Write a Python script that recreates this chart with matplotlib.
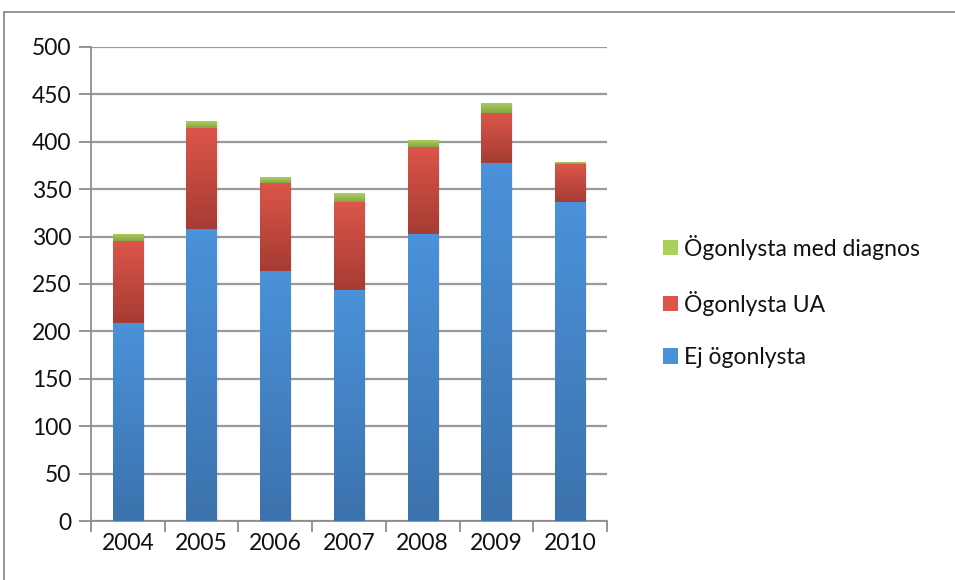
import matplotlib
matplotlib.use("Agg")
import matplotlib.pyplot as plt
import numpy as np
from matplotlib.colors import LinearSegmentedColormap
from matplotlib.patches import Rectangle
from matplotlib.lines import Line2D

years = ["2004", "2005", "2006", "2007", "2008", "2009", "2010"]
ej_ogonlysta = [209, 308, 264, 244, 303, 378, 337]
ogonlysta_ua = [86, 107, 93, 93, 92, 52, 40]
ogonlysta_diag = [8, 7, 6, 9, 7, 11, 2]
yticks = [0, 50, 100, 150, 200, 250, 300, 350, 400, 450, 500]

plt.rcParams['font.family'] = ['Lato', 'DejaVu Sans']
FS = 16.5

fig = plt.figure(figsize=(9.55, 5.8), dpi=100)
ax = fig.add_axes([91/955, 1-521/580, (607-91)/955, (521-47)/580])

x = np.arange(len(years))
w = 0.41
series = [
    (ej_ogonlysta, "Ej ögonlysta", "#4a92da", "#3c72ad"),
    (ogonlysta_ua, "Ögonlysta UA", "#dc554a", "#a63c33"),
    (ogonlysta_diag, "Ögonlysta med diagnos", "#abd05c", "#87a546"),
]
bottom = np.zeros(len(years))
grad = np.linspace(1, 0, 64).reshape(-1, 1)
for vals, label, ctop, cbot in series:
    vals = np.array(vals, dtype=float)
    bars = ax.bar(x, vals, w, bottom=bottom, color=ctop, zorder=3, linewidth=0)
    cmap = LinearSegmentedColormap.from_list("g", [cbot, ctop])
    for b in bars:
        x0, y0 = b.get_x(), b.get_y()
        bw, bh = b.get_width(), b.get_height()
        sh = Rectangle((x0 + 0.015, y0 - 1), bw + 0.01, bh, facecolor="#000000", alpha=0.06,
                       zorder=2, linewidth=0)
        ax.add_patch(sh)
        im = ax.imshow(grad, cmap=cmap, aspect="auto", extent=(x0, x0 + bw, y0, y0 + bh),
                       zorder=3.5, origin="upper", vmin=0, vmax=1)
        im.set_clip_path(b)
    bottom = bottom + vals

ax.set_xlim(-0.5, len(years) - 0.5)
ax.set_ylim(0, 500)
ax.set_yticks(yticks)
ax.set_yticklabels([str(t) for t in yticks], fontsize=FS, color="#111111")
ax.set_xticks(x)
ax.set_xticklabels(years, fontsize=FS, color="#111111")
ax.tick_params(axis="x", length=0, pad=9)
ax.set_xticks(np.arange(-0.5, len(years)), minor=True)
ax.tick_params(axis="x", which="minor", length=8, color="#8c8c8c", width=1.3, direction="out")
ax.tick_params(axis="y", length=9, color="#8c8c8c", width=1.3, pad=5)
ax.grid(axis="y", color="#9a9a9a", linewidth=1.6, zorder=0)
for s in ["top", "right"]:
    ax.spines[s].set_visible(False)
for s in ["left", "bottom"]:
    ax.spines[s].set_color("#8c8c8c")
    ax.spines[s].set_linewidth(1.3)

handles = [Rectangle((0, 0), 1, 1, facecolor=c) for _, _, c, _ in series[::-1]]
labels = [l for _, l, _, _ in series[::-1]]
leg = fig.legend(handles, labels, loc="upper left", bbox_to_anchor=(642/955, 1-214/580),
                 frameon=False, fontsize=FS, handlelength=0.65, handleheight=0.65,
                 handletextpad=0.3, labelspacing=1.36)
for t in leg.get_texts():
    t.set_color("#111111")

fig.add_artist(Line2D([4/955, 1], [1-12/580, 1-12/580], color="#8c8c8c", linewidth=1.3,
                      transform=fig.transFigure))
fig.add_artist(Line2D([4/955, 4/955], [0, 1-12/580], color="#8c8c8c", linewidth=1.3,
                      transform=fig.transFigure))

fig.savefig("out.png", dpi=100)
